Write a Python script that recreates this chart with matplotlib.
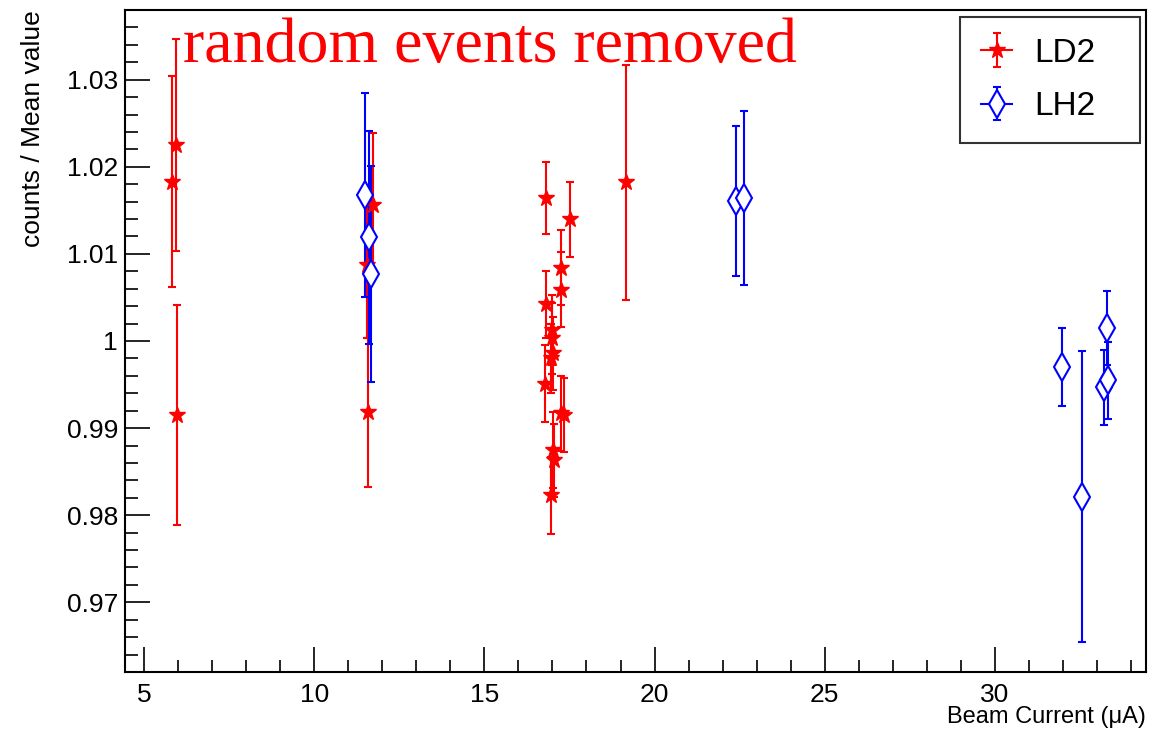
import matplotlib.pyplot as plt
from matplotlib.lines import Line2D
from matplotlib.legend_handler import HandlerTuple
from matplotlib.ticker import MultipleLocator

plt.rcParams['font.family'] = ['Liberation Sans', 'DejaVu Sans']

# LD2 runs (red stars)
ld2_current = [5.82, 5.94, 5.98, 11.59, 11.55, 11.74,
               16.81, 17.51, 17.24, 17.25, 16.82, 16.99, 17.00, 17.02, 16.97,
               16.79, 17.25, 17.33, 17.02, 17.04, 16.96, 19.17]
ld2_ratio = [1.0183, 1.0225, 0.9915, 0.9918, 1.0087, 1.0156,
             1.0164, 1.0140, 1.0084, 1.0059, 1.0042, 1.0013, 1.0003, 0.9986, 0.9980,
             0.9951, 0.9917, 0.9915, 0.9875, 0.9863, 0.9823, 1.0182]
ld2_err = [0.0121, 0.0122, 0.0126, 0.0086, 0.0083, 0.0083,
           0.0041, 0.0043, 0.0043, 0.0043, 0.0038, 0.0040, 0.0041, 0.0042, 0.0040,
           0.0044, 0.0043, 0.0042, 0.0044, 0.0042, 0.0044, 0.0135]

# LH2 runs (blue diamonds)
lh2_current = [11.48, 11.62, 11.68, 22.40, 22.63, 31.96, 32.56, 33.29, 33.20, 33.31]
lh2_ratio = [1.0168, 1.0119, 1.0077, 1.0161, 1.0164, 0.9970, 0.9821, 1.0015, 0.9947, 0.9955]
lh2_err = [0.0117, 0.0122, 0.0124, 0.0086, 0.0100, 0.0045, 0.0167, 0.0042, 0.0043, 0.0044]

W, H = 1149, 731
fig = plt.figure(figsize=(W / 100, H / 100), dpi=100)
ax = fig.add_axes([125 / W, 1 - 672 / H, (1146 - 125) / W, (672 - 10) / H])

ld2 = ax.errorbar(ld2_current, ld2_ratio, yerr=ld2_err, fmt='*', color='red', ms=12,
                  elinewidth=1.5, capsize=3, capthick=1.5)
lh2 = ax.errorbar(lh2_current, lh2_ratio, yerr=lh2_err, fmt='d', color='blue', mfc='white',
                  mec='blue', mew=1.5, ms=14, elinewidth=1.5, capsize=3, capthick=1.5)

ax.set_xlim(4.44, 34.44)
ax.set_ylim(0.962, 1.038)
ax.xaxis.set_major_locator(MultipleLocator(5))
ax.xaxis.set_minor_locator(MultipleLocator(1))
ax.yaxis.set_minor_locator(MultipleLocator(0.002))
ax.set_yticks([0.97, 0.98, 0.99, 1.0, 1.01, 1.02, 1.03])
ax.set_yticklabels(['0.97', '0.98', '0.99', '1', '1.01', '1.02', '1.03'])
ax.tick_params(which='both', direction='in', labelsize=19, width=1.2)
ax.tick_params(which='major', length=18)
ax.tick_params(which='minor', length=9)
ax.tick_params(axis='x', pad=8)
ax.tick_params(axis='y', pad=5)
for s in ax.spines.values():
    s.set_linewidth(1.5)

fig.text(1146 / W, 1 - 717 / H, 'Beam Current (\u03bcA)', fontsize=17,
         ha='right', va='center')
fig.text(33 / W, 1 - 10 / H, 'counts / Mean value', fontsize=19, rotation=90,
         ha='center', va='top')

fig.text(183 / W, 1 - 62 / H, 'random events removed', fontsize=46,
         family='Liberation Serif', color='red', va='baseline', ha='left')

# horizontal line in the legend entries, like the ROOT "lep" style
hl_red = Line2D([], [], color='red', lw=1.5)
hl_blue = Line2D([], [], color='blue', lw=1.5)
leg = ax.legend([(hl_red, ld2), (hl_blue, lh2)], ['LD2', 'LH2'],
                handler_map={tuple: HandlerTuple(ndivide=1)},
                loc='upper left', mode='expand', fontsize=24, frameon=True, fancybox=False,
                edgecolor='black', borderpad=0.62, labelspacing=0.68, handlelength=0.95,
                handletextpad=0.65, borderaxespad=0.0,
                bbox_to_anchor=(960 / W, 1 - 133 / H, 180 / W, 116 / H),
                bbox_transform=fig.transFigure)
leg.get_frame().set_linewidth(1.5)

fig.savefig('out.png', dpi=100)
